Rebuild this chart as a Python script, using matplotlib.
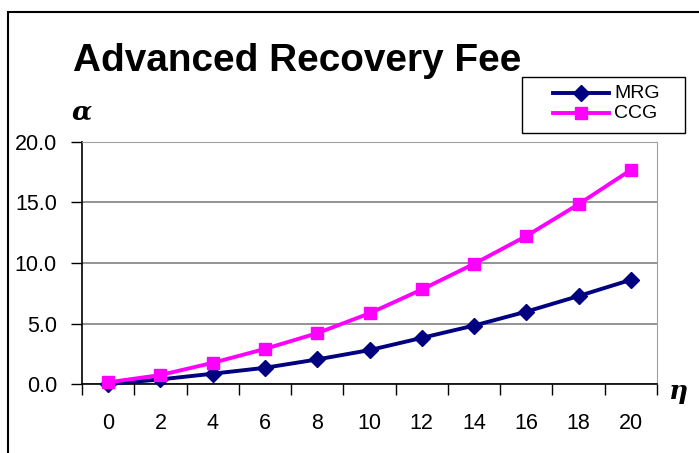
import matplotlib
matplotlib.use("Agg")
import matplotlib.pyplot as plt
from matplotlib.patches import Rectangle
from matplotlib.lines import Line2D
import numpy as np

plt.rcParams['font.family'] = ['Liberation Sans', 'DejaVu Sans']

# Données
categories = ["0", "2", "4", "6", "8", "10", "12", "14", "16", "18", "20"]
mrg = [0.0, 0.38, 0.85, 1.34, 2.03, 2.80, 3.81, 4.83, 5.98, 7.27, 8.61]
ccg = [0.14, 0.74, 1.75, 2.90, 4.20, 5.84, 7.81, 9.93, 12.23, 14.86, 17.69]
y_ticks = [0.0, 5.0, 10.0, 15.0, 20.0]

W, H = 699, 453
fig = plt.figure(figsize=(W / 100, H / 100), dpi=100)


def fx(px):
    return px / W


def fy(py):
    return 1 - py / H


# Cadre de la zone du graphique (coupé à droite et en bas)
fig.patches.append(Rectangle((fx(8), -0.1), 1.2, fy(12) + 0.1, transform=fig.transFigure,
                             fill=False, edgecolor="black", linewidth=1.5))

ax = fig.add_axes([fx(82), fy(384), fx(657) - fx(82), fy(142) - fy(384)])
x = np.arange(len(categories))

ax.plot(x, mrg, color="#000080", linewidth=2.8, marker="D", markersize=8.5, clip_on=False, zorder=3)
ax.plot(x, ccg, color="#FF00FF", linewidth=2.8, marker="s", markersize=9, clip_on=False, zorder=4)

ax.set_xlim(-0.5, len(categories) - 0.5)
ax.set_ylim(0, 20)
ax.set_yticks(y_ticks)
ax.set_yticklabels([f"{v:.1f}" for v in y_ticks], fontsize=15.5)
ax.set_xticks(x)
ax.set_xticklabels(categories, fontsize=15.5)
ax.set_xticks(np.arange(-0.5, len(categories)), minor=True)
ax.tick_params(axis="x", which="major", length=0, pad=21)
ax.tick_params(axis="x", which="minor", length=8, width=1, direction="out")
ax.tick_params(axis="y", length=8, width=1, direction="out", pad=10)

ax.grid(axis="y", color="#808080", linewidth=1.2)
for side in ["top", "right"]:
    ax.spines[side].set_color("#a0a0a0")
for side in ["left", "bottom"]:
    ax.spines[side].set_linewidth(1.2)

# Titre et noms des axes
fig.text(fx(73), fy(71), "Advanced Recovery Fee", fontsize=27.9, fontweight="bold", va="baseline")
fig.text(fx(72), fy(112), "α", fontsize=19, fontweight="bold", style="italic",
         family="DejaVu Serif", va="center")
fig.text(fx(669), fy(392), "η", fontsize=19, fontweight="bold", style="italic",
         family="DejaVu Serif", va="center")

# Légende
fig.patches.append(Rectangle((fx(522), fy(133)), fx(685) - fx(522), fy(77) - fy(133),
                             transform=fig.transFigure, facecolor="white", edgecolor="black", linewidth=1))
for yy, col, mk, lab in [(93, "#000080", "D", "MRG"), (113, "#FF00FF", "s", "CCG")]:
    fig.lines.append(Line2D([fx(553), fx(609)], [fy(yy), fy(yy)], transform=fig.transFigure,
                            color=col, linewidth=2.8))
    fig.lines.append(Line2D([fx(581)], [fy(yy)], transform=fig.transFigure,
                            color=col, marker=mk, markersize=8, linestyle="none"))
    fig.text(fx(614), fy(yy), lab, fontsize=14, va="center")

fig.savefig("out.png", dpi=100)
